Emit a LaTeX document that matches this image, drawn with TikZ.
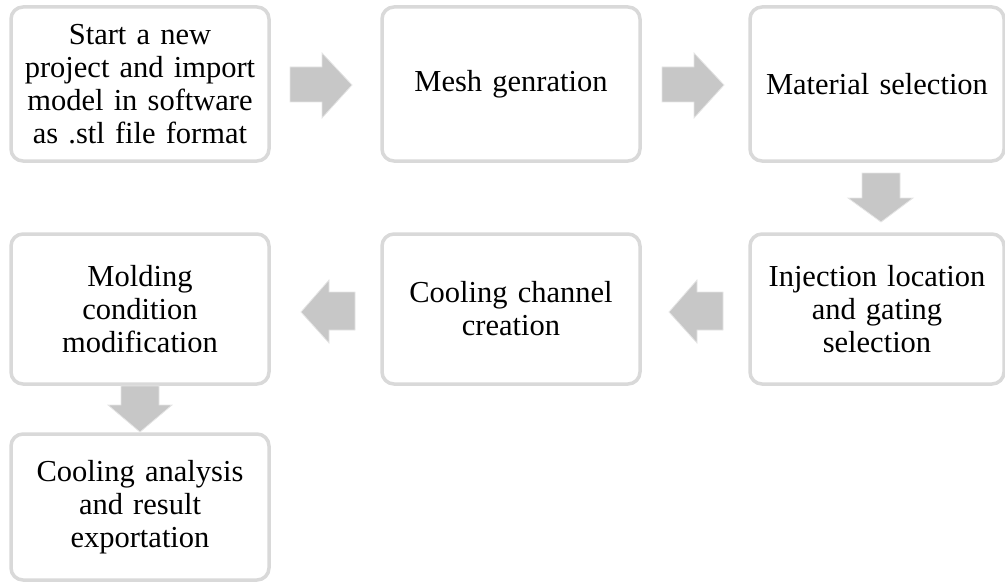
\documentclass[tikz,border=0pt]{standalone}
\usepackage{fontspec}
\setmainfont{Liberation Serif}
\begin{document}
\begin{tikzpicture}[x=1pt,y=-1pt,
  stepbox/.style={draw=black!15,line width=3.5pt,fill=white,rounded corners=12pt,
    minimum width=258pt,inner sep=0pt,align=center,
    font=\fontsize{30.5}{33}\selectfont,text width=254pt},
  blockarrow/.style={fill=black!22,draw=black!10,line width=0.8pt,line join=miter}]
\useasboundingbox (0,0) rectangle (1005,586);
% boxes
\node[stepbox,minimum height=154pt] (b1) at (140,84) {Start a new\\project and import\\model in software\\as .stl file format};
\node[stepbox,minimum height=154pt] (b2) at (511,84) {Mesh genration};
\node[stepbox,minimum height=154pt,minimum width=246pt] (b3) at (877,84) {Material selection};
\node[stepbox,minimum height=150pt,minimum width=246pt] (b4) at (877,309) {Injection location\\and gating\\selection};
\node[stepbox,minimum height=150pt] (b5) at (511,309) {Cooling channel\\creation};
\node[stepbox,minimum height=150pt] (b6) at (140,309) {Molding\\condition\\modification};
\node[stepbox,minimum height=146pt] (b7) at (140,507) {Cooling analysis\\and result\\exportation};
% right arrows
\foreach \x in {290,662}{
  \draw[blockarrow] (\x,67) -- (\x+32,67) -- (\x+32,53) -- (\x+62,85) -- (\x+32,118) -- (\x+32,102) -- (\x,102) -- cycle;
}
% down arrow 3->4
\draw[blockarrow] (862,173) -- (900,173) -- (900,198) -- (913,198) -- (881,222) -- (848,198) -- (862,198) -- cycle;
% left arrows
\foreach \x in {723,355}{
  \draw[blockarrow] (\x,292) -- (\x-26,292) -- (\x-26,280) -- (\x-54,312) -- (\x-26,343) -- (\x-26,330) -- (\x,330) -- cycle;
}
% down arrow 6->7
\draw[blockarrow] (121,386) -- (159,386) -- (159,405) -- (172,405) -- (140,432) -- (108,405) -- (121,405) -- cycle;
\end{tikzpicture}
\end{document}
